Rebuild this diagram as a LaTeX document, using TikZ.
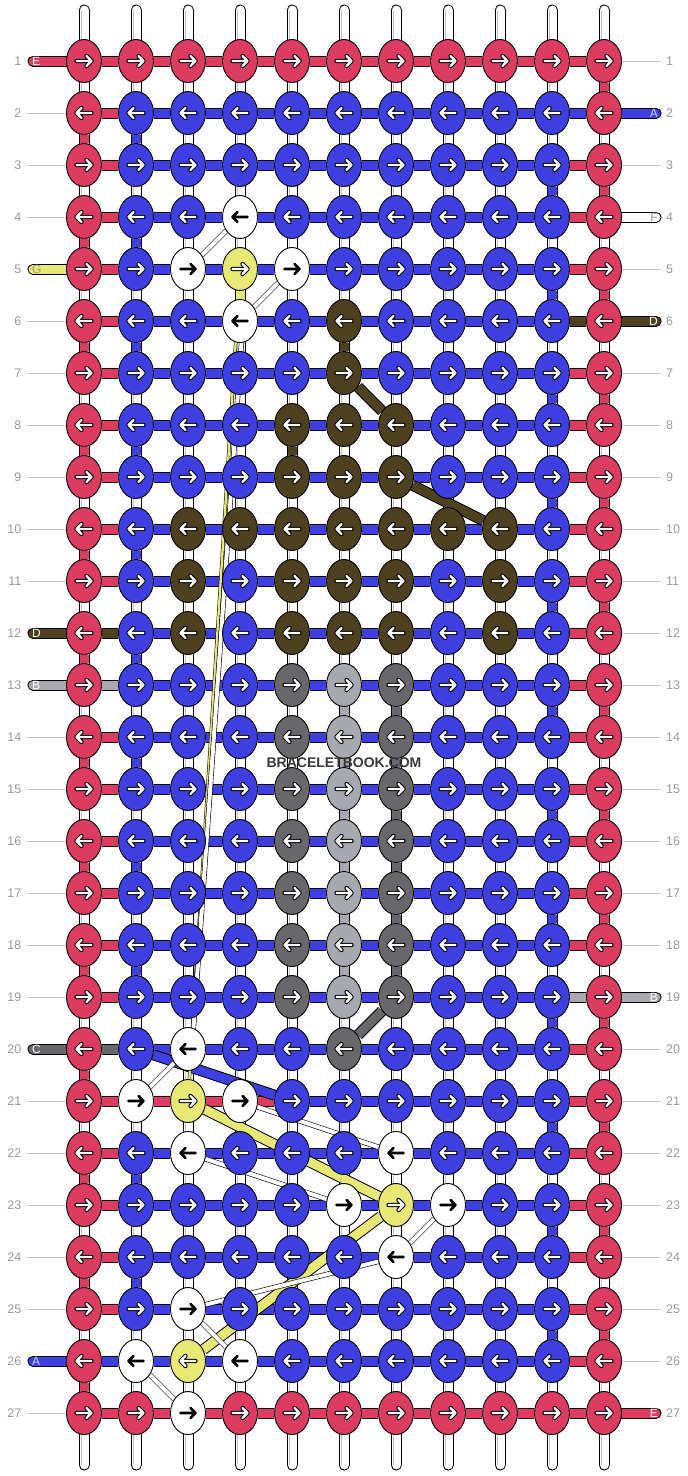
\documentclass[tikz,border=0pt]{standalone}
\usepackage{fontspec}
\setmainfont{Liberation Sans}
\usetikzlibrary{shapes.geometric}

\definecolor{colE}{HTML}{DC3C60}
\definecolor{colA}{HTML}{3D3FE0}
\definecolor{colF}{HTML}{FFFFFF}
\definecolor{colG}{HTML}{E8E874}
\definecolor{colD}{HTML}{4D4120}
\definecolor{colB}{HTML}{A8A8B0}
\definecolor{colC}{HTML}{68686C}
\definecolor{rulegrey}{HTML}{C4C4C4}
\definecolor{numgrey}{HTML}{9A9A9A}

\pgfdeclarelayer{strings}
\pgfdeclarelayer{segs}
\pgfdeclarelayer{diags}
\pgfsetlayers{strings,segs,diags,main}

\tikzset{
	knot/.style={ellipse,draw=black,line width=0.9pt,minimum width=35pt,minimum height=43pt,inner sep=0pt,fill=col#1},
	seg/.style={draw=black,line width=1pt,double=col#1,double distance=9pt},
	thinband/.style={draw=black,line width=0.6pt,double=col#1,double distance=4pt},
	hairband/.style={draw=black,line width=0.5pt,double=col#1,double distance=2.4pt},
	rownum/.style={text=numgrey,font=\fontsize{12.5}{12.5}\selectfont,inner sep=0pt},
	stubtxt/.style={font=\fontsize{12}{12}\selectfont,inner sep=0pt},
}

\newcommand\knotarrow[3]{%
	\begin{scope}[shift={(#1.center)},xscale=#2,line cap=round,line join=round]
		\if#3F
			\draw[black,line width=2.6pt] (-7.5,0) -- (7.5,0) (2.5,5) -- (7.5,0) -- (2.5,-5);
		\else
			\draw[black,line width=4.4pt] (-7.5,0) -- (7.5,0) (2.5,5) -- (7.5,0) -- (2.5,-5);
			\draw[white,line width=2.4pt] (-7.5,0) -- (7.5,0) (2.5,5) -- (7.5,0) -- (2.5,-5);
		\fi
	\end{scope}
}

\begin{document}
\begin{tikzpicture}[x=1pt,y=-1pt]
	\useasboundingbox (0,0) rectangle (688,1476);

	% knots
	\foreach \r/\knots in {
		1/{E,E,E,E,E,E,E,E,E,E,E},
		2/{E,A,A,A,A,A,A,A,A,A,E},
		3/{E,A,A,A,A,A,A,A,A,A,E},
		4/{E,A,A,F,A,A,A,A,A,A,E},
		5/{E,A,F,G,F,A,A,A,A,A,E},
		6/{E,A,A,F,A,D,A,A,A,A,E},
		7/{E,A,A,A,A,D,A,A,A,A,E},
		8/{E,A,A,A,D,D,D,A,A,A,E},
		9/{E,A,A,A,D,D,D,A,A,A,E},
		10/{E,A,D,D,D,D,D,D,D,A,E},
		11/{E,A,D,A,D,D,D,A,D,A,E},
		12/{E,A,D,A,D,D,D,A,D,A,E},
		13/{E,A,A,A,C,B,C,A,A,A,E},
		14/{E,A,A,A,C,B,C,A,A,A,E},
		15/{E,A,A,A,C,B,C,A,A,A,E},
		16/{E,A,A,A,C,B,C,A,A,A,E},
		17/{E,A,A,A,C,B,C,A,A,A,E},
		18/{E,A,A,A,C,B,C,A,A,A,E},
		19/{E,A,A,A,C,B,C,A,A,A,E},
		20/{E,A,F,A,A,C,A,A,A,A,E},
		21/{E,F,G,F,A,A,A,A,A,A,E},
		22/{E,A,F,A,A,A,F,A,A,A,E},
		23/{E,A,A,A,A,F,G,F,A,A,E},
		24/{E,A,A,A,A,A,F,A,A,A,E},
		25/{E,A,F,A,A,A,A,A,A,A,E},
		26/{E,F,G,F,A,A,A,A,A,A,E},
		27/{E,E,F,E,E,E,E,E,E,E,E}}{
		\pgfmathsetmacro\dir{isodd(\r) ? 1 : -1}
		\foreach \k [count=\c from 0] in \knots{
			\node[knot=\k] (k-\r-\c) at ({84+52*\c},{61+52*(\r-1)}) {};
			\knotarrow{k-\r-\c}{\dir}{\k}
		}
	}

	% base strings
	\begin{pgfonlayer}{strings}
		\foreach \c in {0,...,10}{
			\coordinate (top-\c) at ({84+52*\c},10);
			\coordinate (bot-\c) at ({84+52*\c},1465);
			\draw[draw=black,line width=1pt,double=white,double distance=9pt,line cap=round] (top-\c) -- (bot-\c);
			\draw[draw=rulegrey,line width=0.8pt,double=white,double distance=5pt] (top-\c) -- (bot-\c);
		}
	\end{pgfonlayer}

	% row threads
	\begin{pgfonlayer}{segs}
		\foreach \r/\segs in {
			1/{E,E,E,E,E,E,E,E,E,E},
			2/{E,A,A,A,A,A,A,A,A,A},
			3/{E,A,A,A,A,A,A,A,A,E},
			4/{E,A,A,A,A,A,A,A,A,E},
			5/{E,A,A,A,A,A,A,A,A,E},
			6/{E,A,A,A,A,A,A,A,A,D},
			7/{E,A,A,A,A,A,A,A,A,E},
			8/{E,A,A,A,A,A,A,A,A,E},
			9/{E,A,A,A,A,A,A,A,A,E},
			10/{E,A,A,A,A,A,A,A,A,E},
			11/{E,A,A,A,A,A,A,A,A,E},
			12/{D,A,A,A,A,A,A,A,A,E},
			13/{B,A,A,A,A,A,A,A,A,E},
			14/{E,A,A,A,A,A,A,A,A,E},
			15/{E,A,A,A,A,A,A,A,A,E},
			16/{E,A,A,A,A,A,A,A,A,E},
			17/{E,A,A,A,A,A,A,A,A,E},
			18/{E,A,A,A,A,A,A,A,A,E},
			19/{E,A,A,A,A,A,A,A,A,B},
			20/{C,A,A,A,A,A,A,A,A,E},
			21/{E,E,E,E,A,A,A,A,A,E},
			22/{E,A,A,A,A,A,A,A,A,E},
			23/{E,A,A,A,A,A,A,A,A,E},
			24/{E,A,A,A,A,A,A,A,A,E},
			25/{E,A,A,A,A,A,A,A,A,E},
			26/{A,A,A,A,A,A,A,A,A,E},
			27/{E,E,E,E,E,E,E,E,E,E}}{
			\foreach \k [count=\c from 0] in \segs{
				\pgfmathtruncatemacro\n{\c+1}
				\draw[seg=\k] (k-\r-\c) -- (k-\r-\n);
			}
		}

		% threads going down
		\foreach \r/\c/\k in {1/10/E,2/0/E,2/1/A,4/0/E,4/1/A,6/0/E,6/1/A,8/0/E,8/1/A,
			10/0/E,10/1/A,12/0/E,12/1/A,14/0/E,14/1/A,16/0/E,16/1/A,18/0/E,18/1/A,
			20/0/E,22/0/E,22/1/A,24/0/E,24/1/A,26/0/E,
			3/9/A,3/10/E,5/9/A,5/10/E,7/9/A,7/10/E,9/9/A,9/10/E,11/9/A,11/10/E,
			13/9/A,13/10/E,15/9/A,15/10/E,17/9/A,17/10/E,19/9/A,19/10/E,21/9/A,21/10/E,
			23/9/A,23/10/E,25/9/A,25/10/E,
			5/3/G,6/5/D,8/4/D,
			13/5/B,14/5/B,15/5/B,16/5/B,17/5/B,18/5/B,
			13/6/C,14/6/C,15/6/C,16/6/C,17/6/C,18/6/C}{
			\pgfmathtruncatemacro\n{\r+1}
			\draw[seg=\k] (k-\r-\c) -- (k-\n-\c);
		}

		% thread ends
		\foreach \r/\k/\t in {1/E/white,5/G/numgrey,12/D/white,13/B/white,20/C/white,26/A/colA!25}{
			\coordinate (ls-\r) at (33,{61+52*(\r-1)});
			\draw[seg=\k,line cap=round] (ls-\r) -- (k-\r-0);
			\node[stubtxt,text=\t,anchor=west] at ([xshift=-1]ls-\r) {\k};
		}
		\foreach \r/\k/\t in {2/A/colA!25,4/F/numgrey,6/D/white,19/B/white,27/E/white}{
			\coordinate (rs-\r) at (656,{61+52*(\r-1)});
			\draw[seg=\k,line cap=round] (k-\r-10) -- (rs-\r);
			\node[stubtxt,text=\t,anchor=east] at ([xshift=2]rs-\r) {\k};
		}
	\end{pgfonlayer}

	% threads changing place
	\begin{pgfonlayer}{diags}
		\draw[seg=D] (k-7-5) -- (k-8-6);
		\draw[seg=D] (k-9-6) -- (k-10-8);
		\draw[seg=C] (k-19-6) -- (k-20-5);
		\draw[seg=A] (k-20-1) -- (k-21-4);
		\draw[seg=G] (k-21-2) -- (k-23-6);
		\draw[seg=G] (k-23-6) -- (k-26-2);
		\draw[hairband=G] ([xshift=-3]k-6-3.center) -- (k-21-2);
		\draw[thinband=F] ([xshift=3]k-6-3.center) -- ([xshift=4]k-20-2.center);
		\foreach \a/\b in {4-3/5-2,5-4/6-3,20-2/21-1,21-3/22-6,22-2/23-5,23-7/24-6,24-6/25-2,25-2/26-3,26-1/27-2}{
			\draw[thinband=F] (k-\a) -- (k-\b);
		}
	\end{pgfonlayer}

	% row numbers
	\foreach \r in {1,...,27}{
		\coordinate (row-\r) at (0,{61+52*(\r-1)});
		\node[rownum,anchor=east] at ([xshift=21.5]row-\r) {\r};
		\node[rownum,anchor=west] at ([xshift=666]row-\r) {\r};
	}
	\foreach \r in {2,3,4,6,7,8,9,10,11,14,15,16,17,18,19,21,22,23,24,25,27}{
		\draw[rulegrey,line width=0.9pt] ([xshift=27]row-\r) -- (k-\r-0);
	}
	\foreach \r in {1,3,5,7,8,9,10,11,12,13,14,15,16,17,18,20,21,22,23,24,25,26}{
		\draw[rulegrey,line width=0.9pt] (k-\r-10) -- ([xshift=660]row-\r);
	}

	\node[font=\bfseries\fontsize{14}{14}\selectfont,text=black!78] (mark) at (344,763) {BRACELETBOOK.COM};
\end{tikzpicture}
\end{document}
